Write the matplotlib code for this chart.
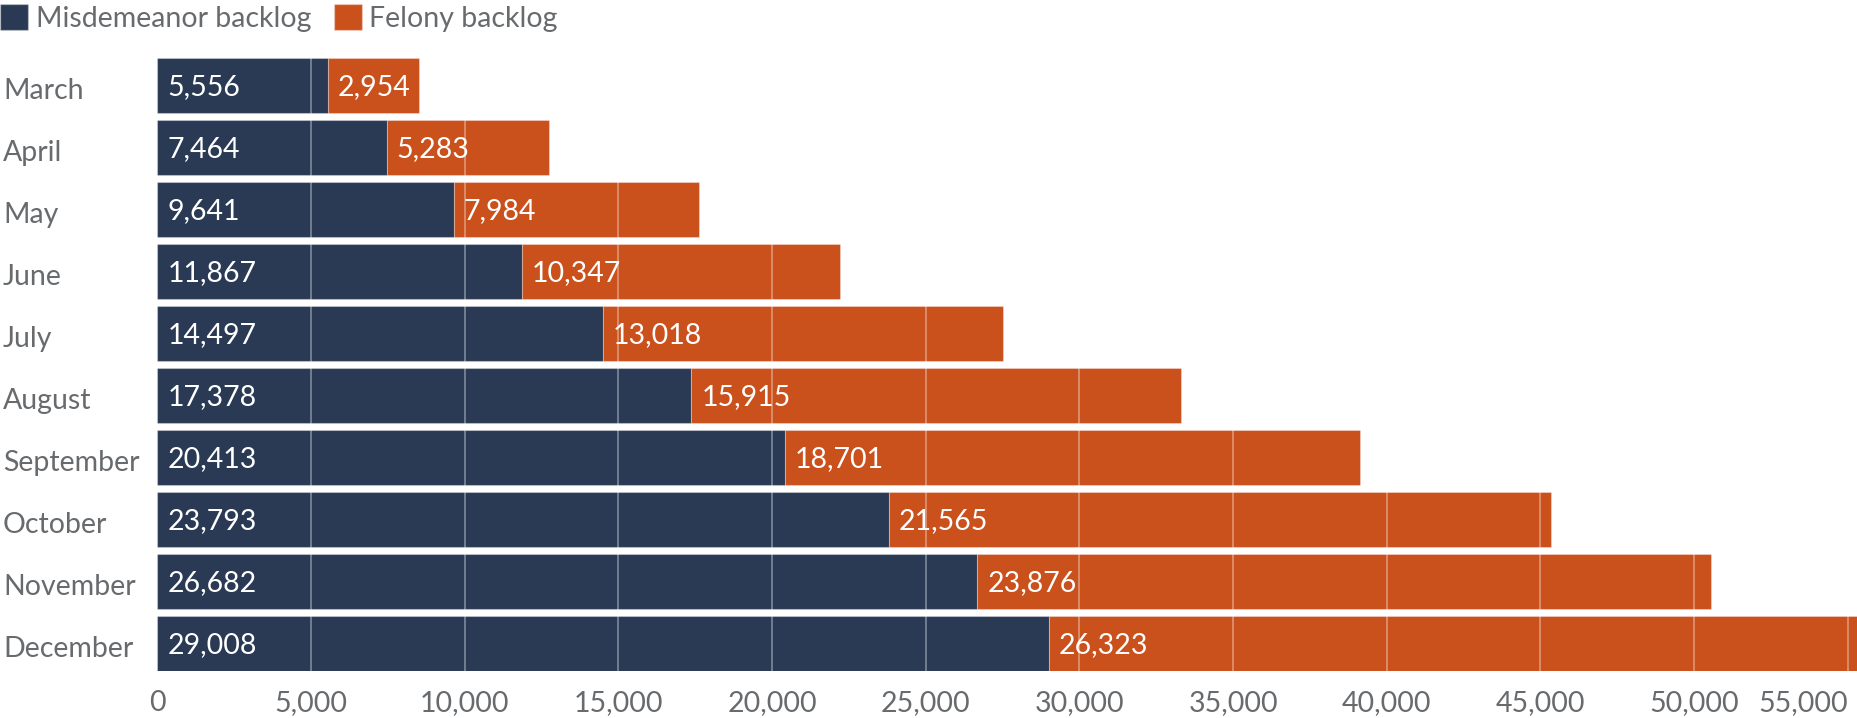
import matplotlib.pyplot as plt
import matplotlib.transforms as mtransforms
from matplotlib.patches import Patch

months = ['March', 'April', 'May', 'June', 'July', 'August',
          'September', 'October', 'November', 'December']
misdemeanor = [5556, 7464, 9641, 11867, 14497, 17378, 20413, 23793, 26682, 29008]
felony = [2954, 5283, 7984, 10347, 13018, 15915, 18701, 21565, 23876, 26323]
xticks = [0, 5000, 10000, 15000, 20000, 25000, 30000, 35000, 40000, 45000, 50000, 55000]

navy = '#2a3a55'
orange = '#ca501c'
gray = '#686b6e'

plt.rcParams['font.family'] = ['Lato', 'DejaVu Sans']

fig = plt.figure(figsize=(18.58, 7.18), dpi=100)
ax = fig.add_axes([157.3 / 1858, 1 - 670.7 / 718, 1 - 157.3 / 1858, (670.7 - 58.3) / 718])

h = 0.877
y = list(range(len(months)))
edge = (1, 1, 1, 0.3)
ax.barh(y, misdemeanor, height=h, color=navy, edgecolor=edge, linewidth=0.8, zorder=2)
ax.barh(y, felony, left=misdemeanor, height=h, color=orange, edgecolor=edge, linewidth=0.8, zorder=2)

for i in y:
    ax.annotate(f'{misdemeanor[i]:,}', (0, i), xytext=(10, -2), textcoords='offset pixels',
                ha='left', va='center', color='white', fontsize=20.5, zorder=4)
    ax.annotate(f'{felony[i]:,}', (misdemeanor[i], i), xytext=(10, -2), textcoords='offset pixels',
                ha='left', va='center', color='white', fontsize=20.5, zorder=4)

# light gridlines drawn over the bars
for t in xticks[1:]:
    ax.axvline(t, color='white', alpha=0.4, linewidth=1.2, zorder=3)

total_max = max(m + f for m, f in zip(misdemeanor, felony))
ax.set_xlim(0, total_max)
ax.set_ylim(len(months) - 1 + h / 2, -h / 2)

ax.set_xticks(xticks)
ax.set_xticklabels([f'{t:,}' for t in xticks])
ax.get_xticklabels()[-1].set_ha('right')
ax.tick_params(axis='x', length=0, pad=14, labelsize=20.5, labelcolor=gray)

# month names left-aligned at the figure's left edge
ax.set_yticks(y)
ax.set_yticklabels(months)
ax.tick_params(axis='y', length=0, pad=(157.3 - 3) * 0.72, labelsize=20.5, labelcolor=gray)
shift = mtransforms.ScaledTranslation(0, -3 / 100, fig.dpi_scale_trans)
for lab in ax.get_yticklabels():
    lab.set_ha('left')
    lab.set_transform(lab.get_transform() + shift)

for s in ax.spines.values():
    s.set_visible(False)

handles = [Patch(facecolor=navy, edgecolor=edge, label='Misdemeanor backlog'),
           Patch(facecolor=orange, edgecolor=edge, label='Felony backlog')]
fig.legend(handles=handles, loc='upper left', bbox_to_anchor=(0, 0.994), ncol=2, frameon=False,
           fontsize=20.5, labelcolor=gray, handlelength=1.0, handleheight=1.0,
           handletextpad=0.25, columnspacing=0.8, borderpad=0, borderaxespad=0)

fig.savefig('out.png', dpi=100)
